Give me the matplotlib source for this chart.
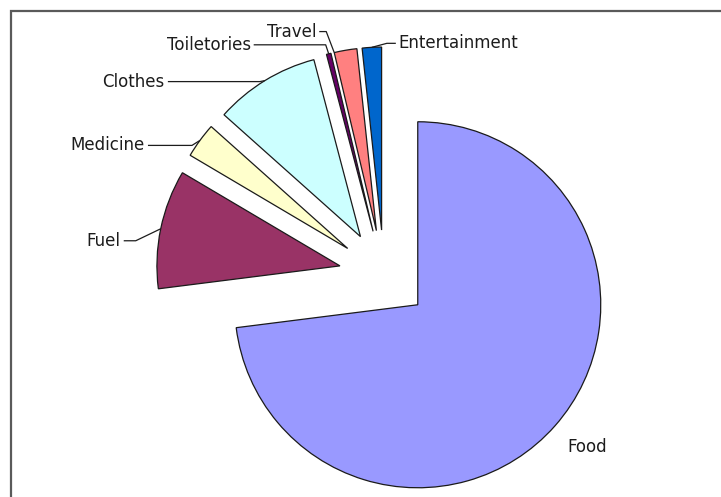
import matplotlib
matplotlib.use("Agg")
import matplotlib.pyplot as plt
from matplotlib.lines import Line2D
import numpy as np

# Household spending shares (percent)
categories = ["Food", "Fuel", "Medicine", "Clothes", "Toiletories", "Travel", "Entertainment"]
shares = [73.0, 10.5, 3.1, 9.3, 0.4, 2.0, 1.7]
colors = ["#9999FF", "#993366", "#FFFFCC", "#CCFFFF", "#660066", "#FF8080", "#0066CC"]

W, H, DPI = 721, 497, 100
RADIUS_PX = 183.0
CENTER_PX = (384.0, 275.0)          # pie centre, pixels from top-left
EXPLODE = 45.0 / RADIUS_PX

# label layout: (offset of text from its anchor in px [x right, y down],
#                text alignment, leader elbow length in px, anchor position within wedge 0..1)
label_style = {
    "Food":          ((32, 21), "center", None, 0.5),
    "Fuel":          ((-40, 12), "right", 12, 0.5),
    "Medicine":      ((-55, 5), "right", 44, 0.5),
    "Clothes":       ((-100, 1), "right", 92, 0.5),
    "Toiletories":   ((-78, -9), "right", 72, 0.5),
    "Travel":        ((-18, -21), "right", 7, 1.0),
    "Entertainment": ((27, -4), "left", 9, 0.5),
}

fig = plt.figure(figsize=(W / DPI, H / DPI), dpi=DPI)
ax = fig.add_axes([0, 0, 1, 1])

wedges, _ = ax.pie(
    shares,
    explode=[EXPLODE] * len(shares),
    colors=colors,
    startangle=90,
    counterclock=False,
    radius=1.0,
    wedgeprops=dict(edgecolor="#1a1a1a", linewidth=0.9),
)

cx, cy = CENTER_PX
ax.set_xlim(-cx / RADIUS_PX, (W - cx) / RADIUS_PX)
ax.set_ylim(-(H - cy) / RADIUS_PX, cy / RADIUS_PX)
ax.set_aspect("equal", adjustable="box")
ax.axis("off")

fig.canvas.draw()
to_disp = ax.transData
to_data = ax.transData.inverted()

text_kw = dict(fontsize=12, color="#1c1c1c", family="DejaVu Sans")

for w, name in zip(wedges, categories):
    (ox, oy), ha, elbow, frac = label_style[name]
    t1, t2 = w.theta1, w.theta2
    ang = np.deg2rad(t1 + frac * (t2 - t1))
    wc = w.center
    anchor = (wc[0] + w.r * np.cos(ang), wc[1] + w.r * np.sin(ang))
    ax_d, ay_d = to_disp.transform(anchor)
    tx_d, ty_d = ax_d + ox, ay_d - oy
    tx, ty = to_data.transform((tx_d, ty_d))
    ax.text(tx, ty, name, ha=ha, va="center", **text_kw)
    if elbow is None:
        continue
    side = 1 if ha == "right" else -1
    x0 = tx_d + side * 3
    y0 = ty_d
    x1 = x0 + side * elbow
    pts = to_data.transform([(x0, y0), (x1, y0), (ax_d, ay_d)])
    ax.plot(pts[:, 0], pts[:, 1], color="#1c1c1c", linewidth=0.9, solid_capstyle="butt")

# chart-area border: left and top edges only are inside the canvas
bx, by = 11.0 / W, 1 - 11.0 / H
fig.add_artist(Line2D([bx, bx, 1.05], [-0.05, by, by], transform=fig.transFigure,
                      color="#5a5a5a", linewidth=1.6, solid_joinstyle="miter"))

fig.savefig("out.png", dpi=DPI)
